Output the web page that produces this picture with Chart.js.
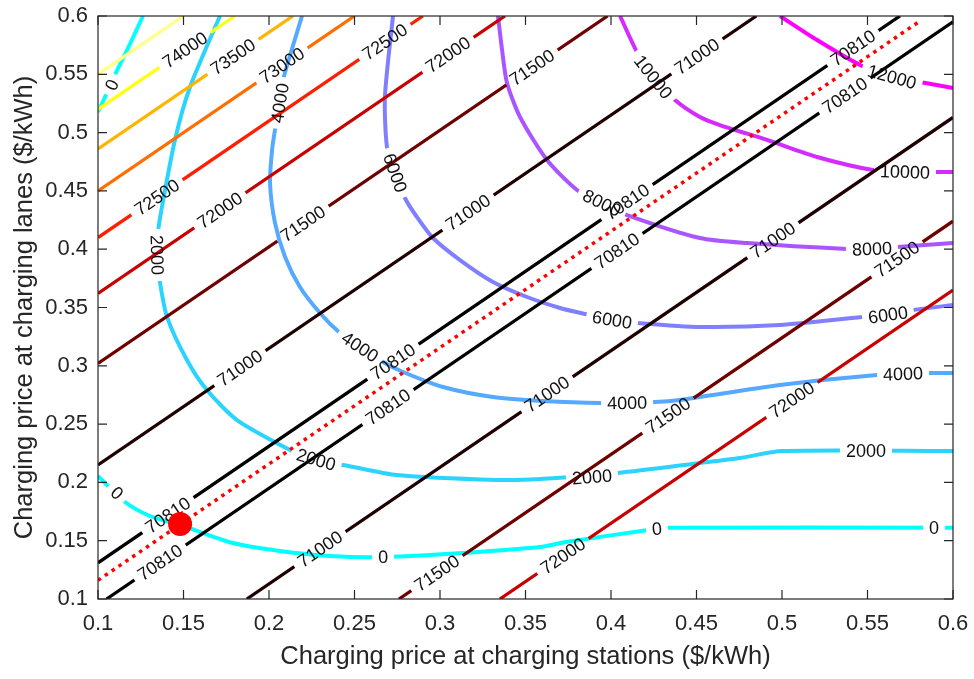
<!DOCTYPE html>
<html>
<head>
<meta charset="utf-8">
<script src="https://cdn.jsdelivr.net/npm/chart.js@4.4.1/dist/chart.umd.min.js"></script>
<style>
  html, body { margin: 0; padding: 0; background: #fff; }
  #wrap { width: 974px; height: 679px; }
</style>
</head>
<body>
<div id="wrap"><canvas id="chart" width="974" height="679"></canvas></div>
<script>
const xTicks = [0.1, 0.15, 0.2, 0.25, 0.3, 0.35, 0.4, 0.45, 0.5, 0.55, 0.6];
const yTicks = [0.1, 0.15, 0.2, 0.25, 0.3, 0.35, 0.4, 0.45, 0.5, 0.55, 0.6];

// straight iso-lines, upper-left group first, then lower-right group
const lineLevels = [74500, 74000, 73500, 73000, 72500, 72000, 71500, 71000, 70810, 70810, 71000, 71500, 72000];
const lineStart = [[0.1, 0.55], [0.1, 0.52], [0.1, 0.486], [0.1, 0.45], [0.1, 0.41], [0.1, 0.362], [0.1, 0.302],
  [0.1, 0.215], [0.1, 0.131], [0.105, 0.1], [0.187, 0.1], [0.276, 0.1], [0.335, 0.1]];
const lineEnd = [[0.15, 0.6], [0.18, 0.6], [0.214, 0.6], [0.25, 0.6], [0.29, 0.6], [0.338, 0.6], [0.398, 0.6],
  [0.485, 0.6], [0.569, 0.6], [0.6, 0.595], [0.6, 0.513], [0.6, 0.424], [0.6, 0.365]];
// x position of each inline label on those lines
const lineLabelX = [[], [0.1509], [0.179], [0.2076], [0.1345, 0.2678], [0.1713, 0.3047], [0.2199, 0.3538],
  [0.183, 0.3164, 0.4503], [0.1409, 0.2725, 0.4094, 0.5415], [0.1363, 0.2696, 0.4035, 0.5368],
  [0.2298, 0.3626, 0.4947], [0.2982, 0.4333, 0.5673], [0.3719, 0.5058]];

// curved iso-lines
const curveLevels = [0, 0, 2000, 4000, 6000, 8000, 10000, 12000];
const curve0Top = [[0.1, 0.5177], [0.1041, 0.5305], [0.1099, 0.5494], [0.1187, 0.576], [0.1263, 0.6]];
const curve0 = [[0.1, 0.2055], [0.1158, 0.1832], [0.1304, 0.1712], [0.148, 0.1635], [0.179, 0.148], [0.2064, 0.1412],
  [0.2357, 0.1369], [0.2667, 0.136], [0.3134, 0.1395], [0.3585, 0.1446], [0.3719, 0.1484], [0.4216, 0.1592],
  [0.4333, 0.1611], [0.6, 0.1611]];
const curve2000 = [[0.1713, 0.6], [0.1538, 0.5391], [0.145, 0.4937], [0.1374, 0.4362], [0.1351, 0.4148], [0.1345, 0.395],
  [0.1363, 0.371], [0.1404, 0.3418], [0.152, 0.305], [0.1637, 0.2792], [0.1813, 0.2535], [0.2123, 0.2278],
  [0.2281, 0.2175], [0.2433, 0.2149], [0.2749, 0.2063], [0.3333, 0.2021], [0.3585, 0.2029], [0.4041, 0.2081],
  [0.452, 0.2166], [0.4754, 0.2209], [0.5, 0.2269], [0.6, 0.2269]];
const curve4000 = [[0.2193, 0.6], [0.2082, 0.5451], [0.2064, 0.5254], [0.2035, 0.5022], [0.2018, 0.4851], [0.2006, 0.4568],
  [0.2035, 0.4225], [0.2094, 0.3933], [0.2181, 0.3676], [0.2298, 0.3453], [0.2415, 0.3281], [0.2532, 0.3161],
  [0.2667, 0.3033], [0.2784, 0.2947], [0.3018, 0.2818], [0.331, 0.2732], [0.3602, 0.2698], [0.3936, 0.2681],
  [0.4257, 0.2689], [0.4404, 0.2707], [0.4988, 0.2835], [0.5556, 0.2921], [0.5854, 0.2938], [0.6, 0.2938]];
const curve6000 = [[0.2725, 0.6], [0.2678, 0.5305], [0.269, 0.4876], [0.2737, 0.4654], [0.2795, 0.4439], [0.2865, 0.4276],
  [0.2959, 0.4096], [0.3117, 0.3907], [0.331, 0.3719], [0.3509, 0.359], [0.3702, 0.3496], [0.3848, 0.3444],
  [0.4006, 0.3393], [0.4158, 0.3367], [0.452, 0.3333], [0.4988, 0.335], [0.5468, 0.3418], [0.562, 0.3436],
  [0.5766, 0.3479], [0.6, 0.3521]];
const curve8000 = [[0.3339, 0.6], [0.3363, 0.5708], [0.3392, 0.5425], [0.3468, 0.5134], [0.3626, 0.4765], [0.3801, 0.4508],
  [0.3947, 0.4396], [0.4094, 0.4293], [0.452, 0.4096], [0.4795, 0.4053], [0.538, 0.4002], [0.5526, 0.4002],
  [0.5673, 0.4019], [0.6, 0.4053]];
const curve10000 = [[0.4053, 0.6], [0.4152, 0.5691], [0.4246, 0.5477], [0.4374, 0.528], [0.452, 0.5134], [0.4637, 0.5065],
  [0.4912, 0.4937], [0.5205, 0.4791], [0.5532, 0.4679], [0.5719, 0.4662], [0.6, 0.4662]];
const curve12000 = [[0.4988, 0.6], [0.5205, 0.5794], [0.5456, 0.558], [0.5643, 0.5477], [0.5807, 0.5434], [0.6, 0.5383]];
const curveData = [curve0Top, curve0, curve2000, curve4000, curve6000, curve8000, curve10000, curve12000];
const curveLabelAt = [
  [[0.1082, 0.5408]],
  [[0.1111, 0.1909], [0.2667, 0.136], [0.4269, 0.1602], [0.5889, 0.1611]],
  [[0.1345, 0.395], [0.2275, 0.2195], [0.3889, 0.2046], [0.5491, 0.2269]],
  [[0.2064, 0.5254], [0.2532, 0.3161], [0.4094, 0.2681], [0.5708, 0.293]],
  [[0.2737, 0.4654], [0.4006, 0.3393], [0.562, 0.3436]],
  [[0.3947, 0.4396], [0.5526, 0.4002]],
  [[0.4246, 0.5477], [0.5719, 0.4662]],
  [[0.5643, 0.5477]]
];

const optimalLine = [[0.1, 0.116], [0.58, 0.595]];
const optimum = [0.148, 0.1643];

// styles
const lineColors = ['#ffff8c', '#ffff14', '#ffb400', '#ff6e00', '#ff1e00', '#c80000', '#6e0000', '#1e0000',
  '#000000', '#000000', '#1e0000', '#6e0000', '#c80000'];
const curveColors = ['#00ffff', '#00ffff', '#2bd4ff', '#55aaff', '#8080ff', '#aa55ff', '#d42bff', '#ff00ff'];
const FONT = '"Liberation Sans", Arial, sans-serif';
const labelFont = '18px ' + FONT;
const axisColor = '#262626';

const pt = p => ({ x: p[0], y: p[1] });

const datasets = [];
datasets.push({
  isMarker: true, data: [pt(optimum)], showLine: false,
  pointRadius: 12, pointHoverRadius: 12, pointBackgroundColor: '#ff0000', pointBorderWidth: 0
});
datasets.push({
  data: optimalLine.map(pt), showLine: true, borderColor: '#ff0000', borderWidth: 3.5,
  borderDash: [3.5, 4.8], borderCapStyle: 'butt', pointRadius: 0, tension: 0
});
lineLevels.forEach((lv, i) => {
  const s = lineStart[i], e = lineEnd[i];
  datasets.push({
    data: [pt(s), pt(e)],
    labelAt: lineLabelX[i].map(x => [x, s[1] + (x - s[0]) * (e[1] - s[1]) / (e[0] - s[0])]),
    labelText: String(lv),
    showLine: true, borderColor: lineColors[i], borderWidth: 3.3, pointRadius: 0, tension: 0
  });
});
curveLevels.forEach((lv, i) => {
  datasets.push({
    data: curveData[i].map(pt),
    labelAt: curveLabelAt[i],
    labelText: String(lv),
    showLine: true, borderColor: curveColors[i], borderWidth: 4, pointRadius: 0, tension: 0.25
  });
});

// label boxes: position and direction taken from the line itself
function labelBoxes(chart, ds) {
  const xs = chart.scales.x, ys = chart.scales.y;
  const pts = ds.data.map(p => [xs.getPixelForValue(p.x), ys.getPixelForValue(p.y)]);
  const cum = [0];
  for (let i = 1; i < pts.length; i++) {
    cum.push(cum[i - 1] + Math.hypot(pts[i][0] - pts[i - 1][0], pts[i][1] - pts[i - 1][1]));
  }
  const at = s => {
    s = Math.max(0, Math.min(cum[cum.length - 1], s));
    let i = 0;
    while (i < pts.length - 2 && cum[i + 1] < s) i++;
    const L = cum[i + 1] - cum[i] || 1, t = (s - cum[i]) / L;
    return [pts[i][0] + t * (pts[i + 1][0] - pts[i][0]), pts[i][1] + t * (pts[i + 1][1] - pts[i][1])];
  };
  const ctx = chart.ctx;
  ctx.save();
  ctx.font = labelFont;
  const w = ctx.measureText(ds.labelText).width;
  ctx.restore();
  return ds.labelAt.map(p => {
    const px = xs.getPixelForValue(p[0]), py = ys.getPixelForValue(p[1]);
    let bd = Infinity, s0 = 0;
    for (let i = 0; i < pts.length - 1; i++) {
      const dx = pts[i + 1][0] - pts[i][0], dy = pts[i + 1][1] - pts[i][1];
      const L2 = dx * dx + dy * dy;
      let t = L2 ? ((px - pts[i][0]) * dx + (py - pts[i][1]) * dy) / L2 : 0;
      t = Math.max(0, Math.min(1, t));
      const d = Math.hypot(pts[i][0] + t * dx - px, pts[i][1] + t * dy - py);
      if (d < bd) { bd = d; s0 = cum[i] + t * Math.sqrt(L2); }
    }
    const a = at(s0 - 18), b = at(s0 + 18);
    let ang = Math.atan2(b[1] - a[1], b[0] - a[0]);
    if (ang > Math.PI / 2) ang -= Math.PI;
    if (ang < -Math.PI / 2) ang += Math.PI;
    return { x: px, y: py, angle: ang, w: w };
  });
}

function drawLabels(chart) {
  const ctx = chart.ctx;
  ctx.save();
  ctx.font = labelFont;
  ctx.fillStyle = '#111';
  ctx.textAlign = 'center';
  ctx.textBaseline = 'middle';
  chart.data.datasets.forEach(ds => {
    if (!ds.labelAt || !ds.labelAt.length) return;
    labelBoxes(chart, ds).forEach(b => {
      ctx.save();
      ctx.translate(b.x, b.y);
      ctx.rotate(b.angle);
      ctx.fillText(ds.labelText, 0, 1);
      ctx.restore();
    });
  });
  ctx.restore();
}

// breaks each line where its own labels sit, then writes the labels
const contourLabels = {
  id: 'contourLabels',
  beforeDatasetDraw(chart, args) {
    const ds = chart.data.datasets[args.index];
    if (ds.isMarker) { drawLabels(chart); return; }
    if (!ds.labelAt || !ds.labelAt.length) return;
    const ctx = chart.ctx, a = chart.chartArea;
    ctx.save();
    ctx.beginPath();
    ctx.rect(a.left, a.top, a.right - a.left, a.bottom - a.top);
    labelBoxes(chart, ds).forEach(b => {
      const hw = b.w / 2 + 6, hh = 9;
      const c = Math.cos(b.angle), s = Math.sin(b.angle);
      const corner = (u, v) => [b.x + u * c - v * s, b.y + u * s + v * c];
      const p = [corner(-hw, -hh), corner(hw, -hh), corner(hw, hh), corner(-hw, hh)];
      ctx.moveTo(p[0][0], p[0][1]);
      for (let k = 1; k < 4; k++) ctx.lineTo(p[k][0], p[k][1]);
      ctx.closePath();
    });
    ctx.clip('evenodd');
  },
  afterDatasetDraw(chart, args) {
    const ds = chart.data.datasets[args.index];
    if (!ds.isMarker && ds.labelAt && ds.labelAt.length) chart.ctx.restore();
  }
};

// box round the plot with inward ticks on all four sides
const frame = {
  id: 'frame',
  afterDraw(chart) {
    const { ctx, chartArea: a, scales: { x, y } } = chart;
    ctx.save();
    ctx.strokeStyle = axisColor;
    ctx.lineWidth = 1.2;
    ctx.strokeRect(a.left, a.top, a.right - a.left, a.bottom - a.top);
    ctx.beginPath();
    xTicks.forEach(v => {
      const px = x.getPixelForValue(v);
      ctx.moveTo(px, a.bottom); ctx.lineTo(px, a.bottom - 9);
      ctx.moveTo(px, a.top); ctx.lineTo(px, a.top + 9);
    });
    yTicks.forEach(v => {
      const py = y.getPixelForValue(v);
      ctx.moveTo(a.left, py); ctx.lineTo(a.left + 9, py);
      ctx.moveTo(a.right, py); ctx.lineTo(a.right - 9, py);
    });
    ctx.stroke();
    ctx.restore();
  }
};

const fmt = v => String(Math.round(v * 100) / 100);

new Chart(document.getElementById('chart'), {
  type: 'scatter',
  data: { datasets },
  options: {
    responsive: false,
    animation: false,
    devicePixelRatio: 1,
    layout: { padding: { left: 0, top: 16, right: 21, bottom: 0 } },
    plugins: { legend: { display: false }, tooltip: { enabled: false } },
    scales: {
      x: {
        type: 'linear', min: 0.1, max: 0.6,
        afterBuildTicks: s => { s.ticks = xTicks.map(v => ({ value: v })); },
        afterFit: s => { s.height = 80; s.paddingLeft = 0; s.paddingRight = 0; },
        grid: { display: false, drawTicks: false },
        border: { display: false },
        ticks: { color: axisColor, font: { family: FONT, size: 22 }, padding: 12, maxRotation: 0, callback: fmt },
        title: {
          display: true, text: 'Charging price at charging stations ($/kWh)', color: axisColor,
          font: { family: FONT, size: 25.5 }, padding: { top: 0, bottom: 7 }
        }
      },
      y: {
        type: 'linear', min: 0.1, max: 0.6,
        afterBuildTicks: s => { s.ticks = yTicks.map(v => ({ value: v })); },
        afterFit: s => { s.width = 98; s.paddingTop = 0; s.paddingBottom = 0; },
        grid: { display: false, drawTicks: false },
        border: { display: false },
        ticks: { color: axisColor, font: { family: FONT, size: 22 }, padding: 10, callback: fmt },
        title: {
          display: true, text: 'Charging price at charging lanes ($/kWh)', color: axisColor,
          font: { family: FONT, size: 25.5 }, padding: { top: 10, bottom: 0 }
        }
      }
    }
  },
  plugins: [contourLabels, frame]
});
</script>
</body>
</html>
